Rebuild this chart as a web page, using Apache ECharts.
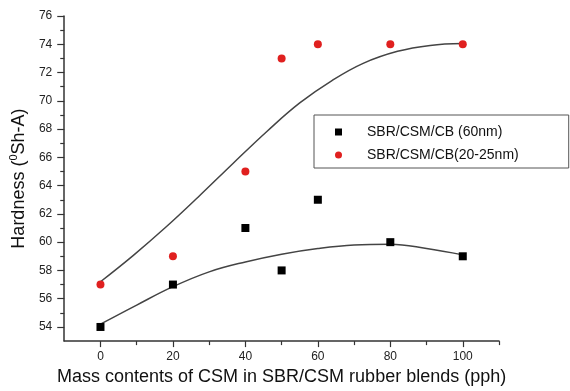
<!DOCTYPE html>
<html>
<head>
<meta charset="utf-8">
<script src="https://cdn.jsdelivr.net/npm/echarts@6/dist/echarts.min.js"></script>
<style>
  html, body { margin: 0; padding: 0; background: #fff; }
  #chart { width: 570px; height: 391px; }
</style>
</head>
<body>
<div id="chart"></div>
<script>
// CSM content (pph) of the measured blends
const csmContent = [0, 20, 40, 50, 60, 80, 100];
// Shore A hardness, CB 60 nm
const hardness60nm = [54, 57, 61, 58, 63, 60, 59];
// Shore A hardness, CB 20-25 nm
const hardness20nm = [57, 59, 65, 73, 74, 74, 74];

// Fitted trend curves, sampled as [pph, hardness]
const fit60nm = [[0, 54.2], [10, 55.55], [20, 56.85], [30, 57.9], [40, 58.6], [50, 59.15],
                 [60, 59.55], [70, 59.8], [80, 59.85], [90, 59.55], [100, 59.1]];
const fit20nm = [[0, 57.2], [9, 59.05], [18, 61.05], [27, 63.2], [36.5, 65.55], [46, 67.85],
                 [55, 69.85], [64, 71.45], [72.5, 72.65], [82, 73.5], [91, 73.92], [100, 74.05]];

// Axis ticks
const xMajorTicks = [0, 20, 40, 60, 80, 100];
const xMinorTicks = [10, 30, 50, 70, 90, 110];
const yMajorTicks = [54, 56, 58, 60, 62, 64, 66, 68, 70, 72, 74, 76];
const yMinorTicks = [55, 57, 59, 61, 63, 65, 67, 69, 71, 73, 75];

const seriesNames = ['SBR/CSM/CB (60nm)', 'SBR/CSM/CB(20-25nm)'];

const pairs = (xs, ys) => xs.map((x, i) => [x, ys[i]]);

const fontFamily = 'Liberation Sans, Arial, sans-serif';
const axisColor = '#333';
const labelFont = { fontFamily: fontFamily, color: '#222', fontSize: 12 };

const chart = echarts.init(document.getElementById('chart'), null, { renderer: 'canvas' });

chart.setOption({
  animation: false,
  backgroundColor: '#fff',
  grid: { left: 64, right: 71, top: 16, bottom: 47, containLabel: false },
  xAxis: [
    {
      type: 'value', min: -10, max: 110,
      splitLine: { show: false },
      axisLine: { show: true, onZero: false, lineStyle: { color: axisColor, width: 1.5 } },
      axisTick: { show: true, customValues: xMajorTicks, length: 6, lineStyle: { color: axisColor, width: 1.2 } },
      axisLabel: Object.assign({ customValues: xMajorTicks, margin: 10 }, labelFont),
      name: 'Mass contents of CSM in SBR/CSM rubber blends (pph)',
      nameLocation: 'middle',
      nameGap: 19,
      nameTextStyle: { fontFamily: fontFamily, fontSize: 18, color: '#111' }
    },
    {
      type: 'value', min: -10, max: 110, position: 'bottom',
      splitLine: { show: false },
      axisLine: { show: false, onZero: false },
      axisTick: { show: true, customValues: xMinorTicks, length: 4, lineStyle: { color: axisColor, width: 1.2 } },
      axisLabel: { show: false }
    }
  ],
  yAxis: [
    {
      type: 'value', min: 53, max: 76,
      splitLine: { show: false },
      axisLine: { show: true, onZero: false, lineStyle: { color: axisColor, width: 1.5 } },
      axisTick: { show: true, customValues: yMajorTicks, length: 7, lineStyle: { color: axisColor, width: 1.2 } },
      axisLabel: Object.assign({ customValues: yMajorTicks, margin: 12 }, labelFont),
      name: '{t|Hardness (}{sup|0}{t|Sh-A)}',
      nameLocation: 'middle',
      nameGap: 34,
      nameTextStyle: {
        rich: {
          t: { fontFamily: fontFamily, fontSize: 18, color: '#111', lineHeight: 22 },
          sup: { fontFamily: fontFamily, fontSize: 11, color: '#111', lineHeight: 22, verticalAlign: 'top' }
        }
      }
    },
    {
      type: 'value', min: 53, max: 76, position: 'left',
      splitLine: { show: false },
      axisLine: { show: false, onZero: false },
      axisTick: { show: true, customValues: yMinorTicks, length: 4, lineStyle: { color: axisColor, width: 1.2 } },
      axisLabel: { show: false }
    }
  ],
  legend: {
    orient: 'vertical',
    left: 314, top: 115,
    padding: [10, 50, 6, 21],
    itemWidth: 7, itemHeight: 7, itemGap: 9,
    borderColor: '#555', borderWidth: 1,
    textStyle: { fontFamily: fontFamily, fontSize: 14, color: '#111', padding: [0, 0, 0, 20] },
    data: [
      { name: seriesNames[0], icon: 'rect', itemStyle: { color: '#000' } },
      { name: seriesNames[1], icon: 'circle', itemStyle: { color: '#e0201f' } }
    ]
  },
  series: [
    {
      type: 'line', data: fit60nm, smooth: 0.4, showSymbol: false, silent: true,
      lineStyle: { color: '#444', width: 1.5 }, z: 1
    },
    {
      type: 'line', data: fit20nm, smooth: 0.4, showSymbol: false, silent: true,
      lineStyle: { color: '#444', width: 1.5 }, z: 1
    },
    {
      name: seriesNames[0], type: 'scatter', data: pairs(csmContent, hardness60nm),
      symbol: 'rect', symbolSize: 8, itemStyle: { color: '#000', opacity: 1 }, z: 3
    },
    {
      name: seriesNames[1], type: 'scatter', data: pairs(csmContent, hardness20nm),
      symbol: 'circle', symbolSize: 8, itemStyle: { color: '#e0201f', opacity: 1 }, z: 4
    }
  ]
});
</script>
</body>
</html>
